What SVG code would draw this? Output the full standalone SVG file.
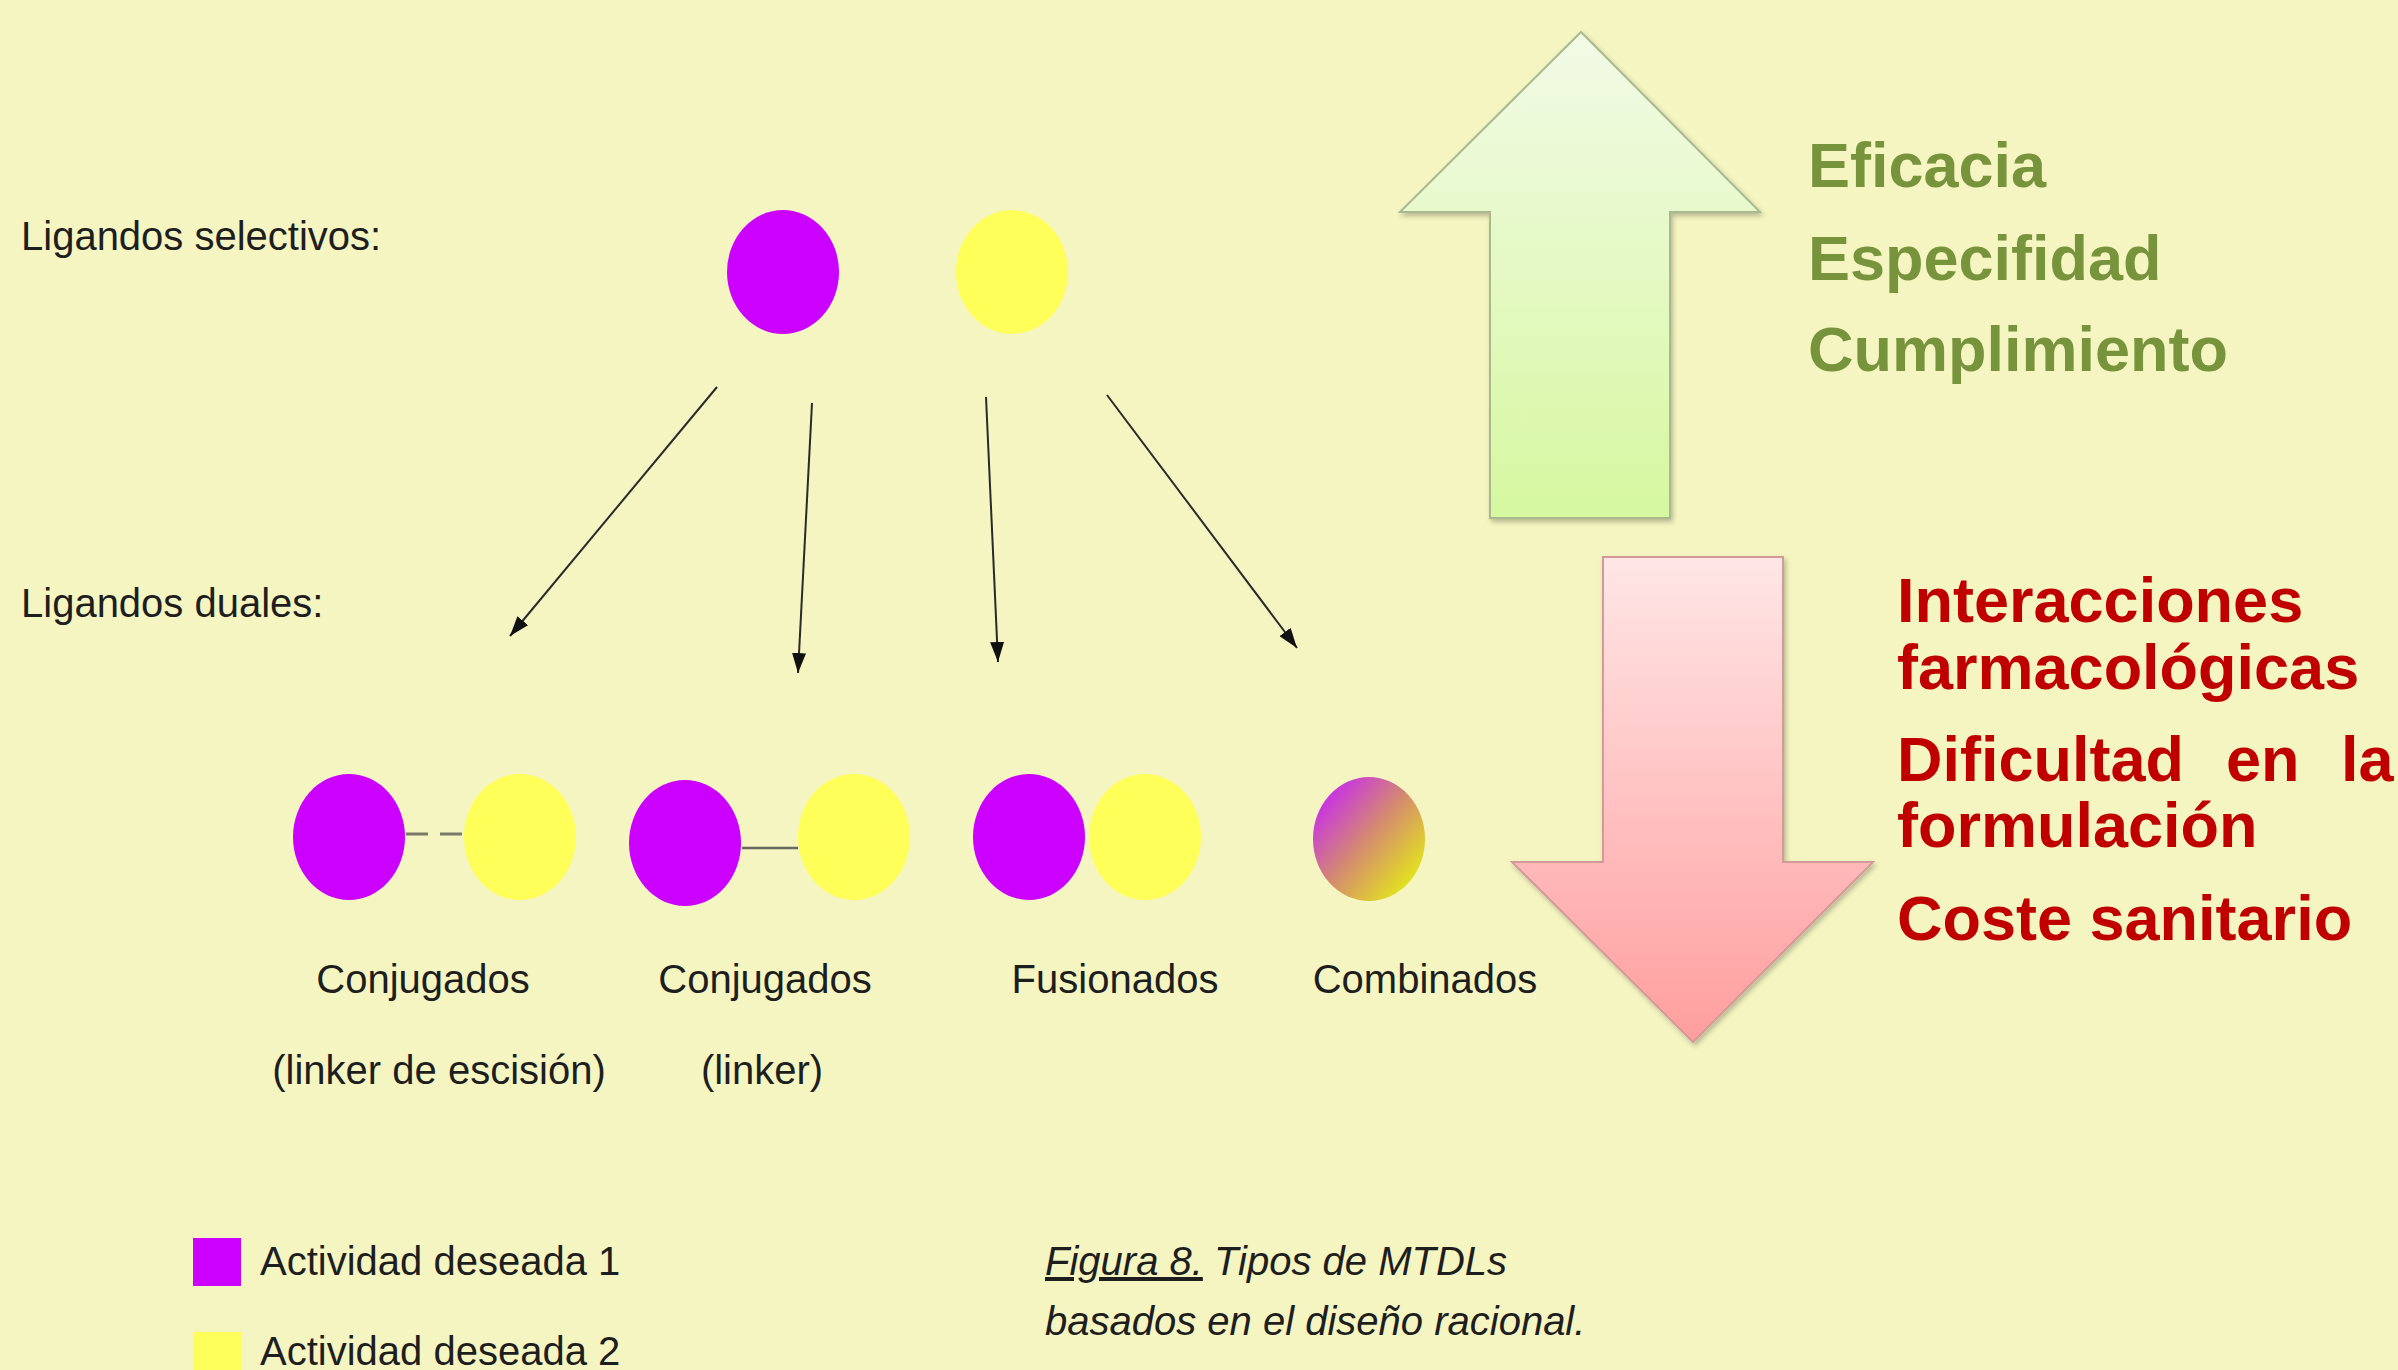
<svg xmlns="http://www.w3.org/2000/svg" width="2398" height="1370" viewBox="0 0 2398 1370">
<style>
.lbl{font-family:"Liberation Sans",Arial,sans-serif;font-size:40px;fill:#1e1e1e}
.cap{font-family:"Liberation Sans",Arial,sans-serif;font-size:40px;font-style:italic;fill:#1e1e1e}
.grn{font-family:"Liberation Sans",Arial,sans-serif;font-size:63px;font-weight:bold;fill:#77933c}
.red{font-family:"Liberation Sans",Arial,sans-serif;font-size:63px;font-weight:bold;fill:#c00000}
.pur{fill:#cc00ff}
.yel{fill:#ffff5a}
.conn{stroke:#2a2a2a;stroke-width:2;fill:none}
</style>
<defs>
<marker id="ah" viewBox="0 0 20 14" refX="20" refY="7" markerWidth="20" markerHeight="14" markerUnits="userSpaceOnUse" orient="auto">
<path d="M0,0 L20,7 L0,14 z" fill="#111"/>
</marker>
<linearGradient id="gUp" x1="0" y1="0" x2="0" y2="1">
<stop offset="0" stop-color="#f2fae6"/>
<stop offset="1" stop-color="#d6f8a0"/>
</linearGradient>
<linearGradient id="gDn" x1="0" y1="0" x2="0" y2="1">
<stop offset="0" stop-color="#ffe6e6"/>
<stop offset="1" stop-color="#ff9e9e"/>
</linearGradient>
<linearGradient id="gMix" x1="0.1" y1="0.15" x2="0.85" y2="0.85">
<stop offset="0" stop-color="#c830e8"/>
<stop offset="0.5" stop-color="#d48a70"/>
<stop offset="1" stop-color="#e2e020"/>
</linearGradient>
<filter id="sh" x="-10%" y="-10%" width="130%" height="130%">
<feDropShadow dx="2" dy="3" stdDeviation="2.5" flood-color="#000" flood-opacity="0.25"/>
</filter>
</defs>
<rect width="2398" height="1370" fill="#f5f5c1"/>

<g id="label-selectivos"><text class="lbl" x="21" y="250">Ligandos selectivos:</text></g>
<g id="label-duales"><text class="lbl" x="21" y="617">Ligandos duales:</text></g>

<g id="sel-purple"><ellipse class="pur" cx="783" cy="272" rx="56" ry="62"/></g>
<g id="sel-yellow"><ellipse class="yel" cx="1012" cy="272" rx="56" ry="62"/></g>

<g id="connectors">
<line class="conn" x1="717" y1="387" x2="510" y2="636" marker-end="url(#ah)"/>
<line class="conn" x1="812" y1="403" x2="798" y2="673" marker-end="url(#ah)"/>
<line class="conn" x1="986" y1="397" x2="998" y2="662" marker-end="url(#ah)"/>
<line class="conn" x1="1107" y1="395" x2="1297" y2="648" marker-end="url(#ah)"/>
</g>

<g id="conjugados-escision">
<ellipse class="pur" cx="349" cy="837" rx="56" ry="63"/>
<ellipse class="yel" cx="520" cy="837" rx="56" ry="63"/>
<line x1="406" y1="834" x2="465" y2="834" stroke="#7a7a6a" stroke-width="3" stroke-dasharray="22,12"/>
<text class="lbl" x="423" y="993" text-anchor="middle">Conjugados</text>
<text class="lbl" x="439" y="1084" text-anchor="middle">(linker de escisión)</text>
</g>

<g id="conjugados-linker">
<ellipse class="pur" cx="685" cy="843" rx="56" ry="63"/>
<ellipse class="yel" cx="854" cy="837" rx="56" ry="63"/>
<line x1="742" y1="848" x2="798" y2="848" stroke="#6a6a60" stroke-width="2.5"/>
<text class="lbl" x="765" y="993" text-anchor="middle">Conjugados</text>
<text class="lbl" x="762" y="1084" text-anchor="middle">(linker)</text>
</g>

<g id="fusionados">
<ellipse class="yel" cx="1145" cy="837" rx="56" ry="63"/>
<ellipse class="pur" cx="1029" cy="837" rx="56" ry="63"/>
<text class="lbl" x="1115" y="993" text-anchor="middle">Fusionados</text>
</g>

<g id="combinados">
<ellipse fill="url(#gMix)" cx="1369" cy="839" rx="56" ry="62"/>
<text class="lbl" x="1425" y="993" text-anchor="middle">Combinados</text>
</g>

<g id="arrow-up">
<polygon points="1581,32 1760,212 1670,212 1670,518 1490,518 1490,212 1400,212" fill="url(#gUp)" stroke="#a9b98f" stroke-width="2" filter="url(#sh)"/>
</g>
<g id="text-up">
<text class="grn" x="1808" y="187">Eficacia</text>
<text class="grn" x="1808" y="280">Especifidad</text>
<text class="grn" x="1808" y="371">Cumplimiento</text>
</g>

<g id="arrow-down">
<polygon points="1603,557 1783,557 1783,862 1873,862 1693,1042 1512,862 1603,862" fill="url(#gDn)" stroke="#d49a9a" stroke-width="2" filter="url(#sh)"/>
</g>
<g id="text-down">
<text class="red" x="1897" y="622">Interacciones</text>
<text class="red" x="1897" y="689">farmacológicas</text>
<text class="red" y="781"><tspan x="1897">Dificultad</tspan><tspan x="2226">en</tspan><tspan x="2341">la</tspan></text>
<text class="red" x="1897" y="847">formulación</text>
<text class="red" x="1897" y="940">Coste sanitario</text>
</g>

<g id="legend">
<rect x="193" y="1238" width="48" height="48" class="pur"/>
<text class="lbl" x="260" y="1275">Actividad deseada 1</text>
<rect x="193" y="1332" width="48" height="48" class="yel"/>
<text class="lbl" x="260" y="1365">Actividad deseada 2</text>
</g>

<g id="caption">
<text class="cap" x="1045" y="1275"><tspan text-decoration="underline">Figura 8.</tspan> Tipos de MTDLs</text>
<text class="cap" x="1045" y="1335">basados en el diseño racional.</text>
</g>
</svg>
